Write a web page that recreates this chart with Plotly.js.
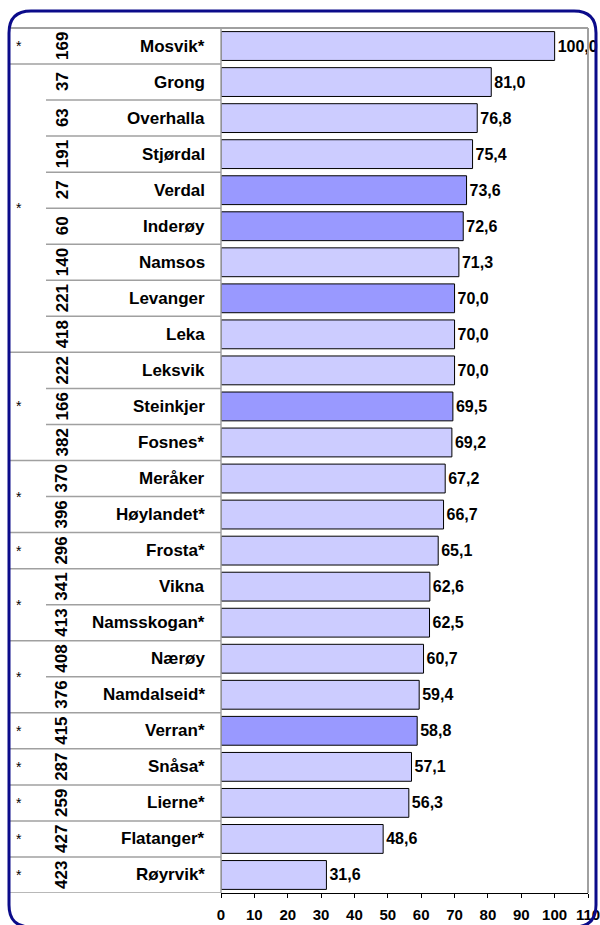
<!DOCTYPE html>
<html>
<head>
<meta charset="utf-8">
<script src="https://cdn.plot.ly/plotly-3.0.1.min.js"></script>
<style>
  html, body { margin: 0; padding: 0; background: #ffffff; }
  #chart { width: 600px; height: 925px; }
</style>
</head>
<body>
<div id="chart"></div>
<script>
// ---- data ----
const names = ["Mosvik*", "Grong", "Overhalla", "Stjørdal", "Verdal", "Inderøy", "Namsos", "Levanger", "Leka",
  "Leksvik", "Steinkjer", "Fosnes*", "Meråker", "Høylandet*", "Frosta*", "Vikna", "Namsskogan*",
  "Nærøy", "Namdalseid*", "Verran*", "Snåsa*", "Lierne*", "Flatanger*", "Røyrvik*"];
const codes = ["169", "37", "63", "191", "27", "60", "140", "221", "418", "222", "166", "382", "370", "396",
  "296", "341", "413", "408", "376", "415", "287", "259", "427", "423"];
const values = [100.0, 81.0, 76.8, 75.4, 73.6, 72.6, 71.3, 70.0, 70.0, 70.0, 69.5, 69.2, 67.2, 66.7,
  65.1, 62.6, 62.5, 60.7, 59.4, 58.8, 57.1, 56.3, 48.6, 31.6];
const highlighted = ["Verdal", "Inderøy", "Levanger", "Steinkjer", "Verran*"];
// group sizes (consecutive rows sharing one "*" cell)
const groupSizes = [1, 8, 3, 2, 1, 2, 2, 1, 1, 1, 1, 1];
const xTicks = [0, 10, 20, 30, 40, 50, 60, 70, 80, 90, 100, 110];

// ---- geometry helpers (pixel -> paper) ----
const W = 600, H = 925, T = 28, B = 32;
const PH = H - T - B;
const px = x => x / W;
const py = y => (H - B - y) / PH;

const LIGHT = "#ccccff", DARK = "#9999ff", GRAY = "#a0a0a0", NAVY = "#0b0b8a";
const FONT = "Liberation Sans, Arial, sans-serif";

const colors = names.map(n => highlighted.includes(n) ? DARK : LIGHT);
const yIdx = names.map((_, i) => i);

const trace = {
  type: "bar",
  orientation: "h",
  y: yIdx,
  x: values,
  marker: { color: colors, line: { color: "#000000", width: 1 } },
  texttemplate: "%{x:.1f}",
  textposition: "outside",
  constraintext: "none",
  cliponaxis: false,
  textfont: { family: FONT, size: 16, color: "#000000", weight: "bold" },
  hoverinfo: "skip"
};

const shapes = [];
const annotations = [];

// group boundaries
const groupEnds = [];
let acc = 0;
const groupCenters = [];
groupSizes.forEach(s => {
  groupCenters.push(acc + (s - 1) / 2);
  acc += s;
  groupEnds.push(acc - 1);
});

// horizontal row separators
for (let i = 0; i < names.length - 1; i++) {
  const full = groupEnds.includes(i);
  shapes.push({
    type: "line", xref: "paper", yref: "y",
    x0: px(full ? 10 : 46), x1: px(221), y0: i + 0.5, y1: i + 0.5,
    line: { color: GRAY, width: 1.5 }
  });
}
// bottom table line
shapes.push({ type: "line", xref: "paper", yref: "y", x0: px(10), x1: px(221),
  y0: names.length - 0.5, y1: names.length - 0.5, line: { color: GRAY, width: 1.5 } });
// top frame line
shapes.push({ type: "line", xref: "paper", yref: "paper", x0: px(10), x1: px(588),
  y0: 1, y1: 1, line: { color: GRAY, width: 2 } });
// right frame line
shapes.push({ type: "line", xref: "paper", yref: "paper", x0: px(588), x1: px(588),
  y0: 0, y1: 1, line: { color: GRAY, width: 2 } });
// table right edge
shapes.push({ type: "line", xref: "paper", yref: "paper", x0: px(221), x1: px(221),
  y0: 0, y1: 1, line: { color: GRAY, width: 1.5 } });

// outer rounded border
(function () {
  const L = 9, R = 596, Tp = 11, Bt = 927, r = 22;
  const p = (x, y) => px(x).toFixed(5) + "," + py(y).toFixed(5);
  const path = "M " + p(L + r, Tp) + " L " + p(R - r, Tp) +
    " Q " + p(R, Tp) + " " + p(R, Tp + r) +
    " L " + p(R, Bt - r) +
    " Q " + p(R, Bt) + " " + p(R - r, Bt) +
    " L " + p(L + r, Bt) +
    " Q " + p(L, Bt) + " " + p(L, Bt - r) +
    " L " + p(L, Tp + r) +
    " Q " + p(L, Tp) + " " + p(L + r, Tp) + " Z";
  shapes.push({ type: "path", xref: "paper", yref: "paper", path: path,
    line: { color: NAVY, width: 3 }, fillcolor: "rgba(0,0,0,0)", layer: "above" });
})();

// labels
names.forEach((n, i) => {
  annotations.push({ xref: "paper", yref: "y", x: px(207), y: i, text: n, showarrow: false,
    xanchor: "right", yanchor: "middle",
    font: { family: FONT, size: 17, color: "#000", weight: "bold" } });
  annotations.push({ xref: "paper", yref: "y", x: px(62), y: i, text: codes[i], showarrow: false,
    xanchor: "center", yanchor: "middle", textangle: -90,
    font: { family: FONT, size: 17, color: "#000", weight: "bold" } });
});
groupCenters.forEach(c => {
  annotations.push({ xref: "paper", yref: "y", x: px(19), y: c, text: "*", showarrow: false,
    xanchor: "center", yanchor: "middle",
    font: { family: FONT, size: 14, color: "#000" } });
});

const layout = {
  width: W, height: H,
  margin: { l: 0, r: 0, t: T, b: B, pad: 0 },
  paper_bgcolor: "#ffffff", plot_bgcolor: "#ffffff",
  showlegend: false,
  separators: ", ",
  bargap: 0.2,
  xaxis: {
    domain: [px(221), px(588)],
    range: [0, 110],
    tickvals: xTicks,
    ticktext: xTicks.map(String),
    ticks: "outside", ticklen: 4, tickcolor: "#000", tickwidth: 1,
    showline: true, linecolor: "#000", linewidth: 1,
    showgrid: false, zeroline: false,
    tickfont: { family: FONT, size: 15, color: "#000", weight: "bold" },
    ticklabelstandoff: 4,
    ticklabeloverflow: "allow",
    fixedrange: true
  },
  yaxis: {
    range: [names.length - 0.5, -0.5],
    showticklabels: false, showgrid: false, zeroline: false, showline: false,
    ticks: "", fixedrange: true
  },
  shapes: shapes,
  annotations: annotations
};

Plotly.newPlot("chart", [trace], layout, { staticPlot: true, displayModeBar: false });
</script>
</body>
</html>
